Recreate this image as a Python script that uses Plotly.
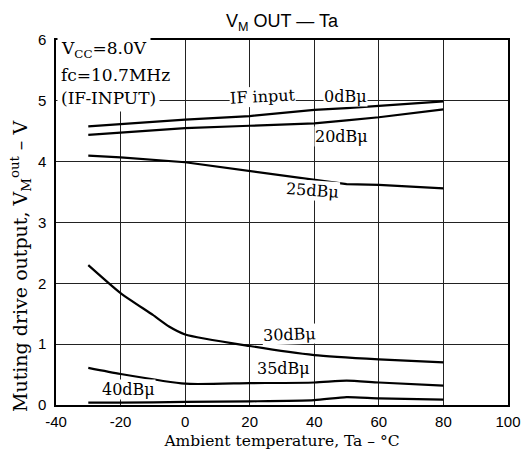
import plotly.graph_objects as go

# Temperatures (°C) and muting drive output (V) per IF input level
ta = [-30, -20, 0, 20, 40, 50, 60, 80]
v_0db = [4.58, 4.62, 4.69, 4.75, 4.85, 4.88, 4.92, 4.99]
v_20db = [4.44, 4.48, 4.55, 4.59, 4.63, 4.68, 4.73, 4.86]
v_25db = [4.10, 4.07, 3.99, 3.85, 3.70, 3.63, 3.62, 3.56]
ta_30 = [-30, -20, -10, -5, 0, 20, 40, 60, 80]
v_30db = [2.30, 1.84, 1.48, 1.29, 1.16, 0.97, 0.82, 0.75, 0.70]
v_35db = [0.61, 0.51, 0.35, 0.36, 0.37, 0.40, 0.37, 0.32]
v_40db = [0.04, 0.04, 0.05, 0.06, 0.08, 0.13, 0.11, 0.09]

series = [
    ("0dBμ", ta, v_0db, "linear"),
    ("20dBμ", ta, v_20db, "linear"),
    ("25dBμ", ta, v_25db, "linear"),
    ("30dBμ", ta_30, v_30db, "spline"),
    ("35dBμ", ta, v_35db, "spline"),
    ("40dBμ", ta, v_40db, "spline"),
]

x_ticks = [-40, -20, 0, 20, 40, 60, 80, 100]
y_ticks = [0, 1, 2, 3, 4, 5, 6]

fig = go.Figure()
for name, xs, ys, shp in series:
    fig.add_trace(go.Scatter(x=xs, y=ys, mode="lines", name=name,
                             line=dict(color="black", width=2.2, shape=shp, smoothing=0.6),
                             showlegend=False, hoverinfo="skip"))

serif = "DejaVu Serif"
sans = "Liberation Sans"

labels = [
    ("IF input", 24.0, 5.07, -3),
    ("0dBμ", 49.8, 5.07, 0),
    ("20dBμ", 48.5, 4.41, 0),
    ("25dBμ", 39.6, 3.52, 4),
    ("30dBμ", 32.4, 1.16, -2),
    ("35dBμ", 30.6, 0.60, 0),
    ("40dBμ", -17.4, 0.26, 0),
]
for txt, x, y, ang in labels:
    fig.add_annotation(x=x, y=y, text=txt, showarrow=False, textangle=ang,
                       font=dict(family=serif, size=16, color="black"),
                       bgcolor="white", borderpad=0)

cond = [("V<sub>CC</sub>=8.0V", 5.84), ("fc=10.7MHz", 5.43), ("(IF-INPUT)", 5.04)]
for txt, y in cond:
    fig.add_annotation(x=-39.8, y=y, text=txt, showarrow=False, xanchor="left",
                       font=dict(family=serif, size=17, color="black"),
                       bgcolor="white", borderpad=3)

# y-axis title as rotated annotation
fig.add_annotation(xref="paper", yref="paper", x=-0.078, y=0.38,
                   text="Muting drive output, V<sub>M</sub><sup>out</sup> – V",
                   textangle=-90, showarrow=False, xanchor="center", yanchor="middle",
                   font=dict(family=serif, size=19, color="black"))

fig.update_layout(
    width=521, height=457,
    margin=dict(l=56, r=13, t=40, b=52),
    paper_bgcolor="white", plot_bgcolor="white",
    title=dict(text="V<sub>M</sub> OUT — Ta", x=0.5, xref="paper", y=0.955,
               xanchor="center", yanchor="middle",
               font=dict(family=sans, size=18, color="black")),
)
fig.update_xaxes(range=[-40, 100], tickvals=x_ticks, ticktext=[str(v) for v in x_ticks],
                 showgrid=True, gridcolor="#222", gridwidth=1, automargin=False,
                 showline=True, linecolor="black", linewidth=1.5, mirror=True,
                 zeroline=False, ticks="", ticklabelstandoff=2,
                 tickfont=dict(family=sans, size=15, color="black"),
                 title=dict(text="Ambient temperature, Ta – °C", standoff=6,
                            font=dict(family=serif, size=15.5, color="black")))
fig.update_yaxes(range=[0, 6], tickvals=y_ticks, ticktext=[str(v) for v in y_ticks],
                 showgrid=True, gridcolor="#222", gridwidth=1, automargin=False,
                 showline=True, linecolor="black", linewidth=1.5, mirror=True,
                 zeroline=False, ticks="", ticklabelstandoff=5,
                 tickfont=dict(family=sans, size=15, color="black"))

fig.write_html("out.html", config={"displayModeBar": False},
               post_script="document.body.style.margin='0';")
